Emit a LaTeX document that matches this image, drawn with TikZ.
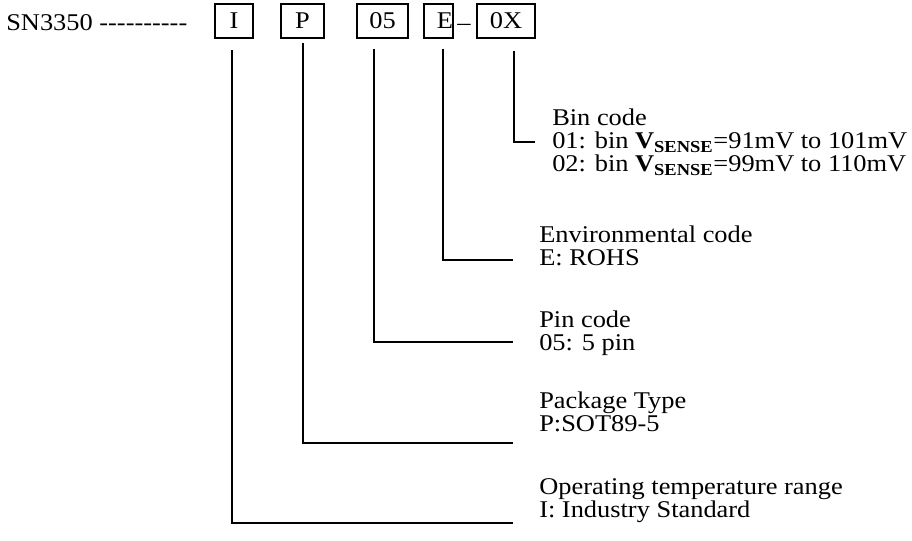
\documentclass[tikz,border=0pt]{standalone}
\usepackage{fontspec}
\setmainfont{Liberation Serif}[FakeStretch=1.1]
\usepackage{tikz}
\tikzset{
  codebox/.style={draw, line width=1.1pt, inner sep=0pt, minimum height=25.5pt},
  lbl/.style={anchor=base west, inner sep=0pt},
  lead/.style={line width=1.1pt},
}

\begin{document}
\begin{tikzpicture}[x=0.75pt, y=-0.75pt, font=\fontsize{18pt}{20pt}\selectfont]
		%%%%% START %%%%%
		\useasboundingbox (0,0) rectangle (912,541);
		
		\node[lbl] (part) at (6,31) {SN3350 -{}-{}-{}-{}-{}-{}-{}-{}-{}-};
		
		\node[codebox, minimum width=28.5pt] (I) at (234,21) {I};
		\node[codebox, minimum width=32.25pt] (P) at (302.5,21) {P};
		\node[codebox, minimum width=38.25pt] (pin) at (382.5,21) {05};
		\node[codebox, text width=21.75pt, align=right] (E) at (438.5,21) {E};
		\node[lbl, anchor=base] (dash) at (464,31) {\textendash};
		\node[codebox, minimum width=43.5pt] (bin) at (506,21) {0X};
		
		% bin code
		\coordinate (bintop) at (514,51);
		\coordinate (binend) at (535,142);
		\draw[lead] (bintop) |- (binend);
		\node[lbl] (binhead) at (552,126) {Bin code};
		\node[lbl] (bincodeA) at (552,149) {01: bin \textbf{V\textsubscript{SENSE}}=91mV to 101mV};
		\node[lbl] (bincodeB) at (552,172) {02: bin \textbf{V\textsubscript{SENSE}}=99mV to 110mV};
		
		% environmental code
		\coordinate (Etop) at (443,49);
		\coordinate (Eend) at (513,260);
		\draw[lead] (Etop) |- (Eend);
		\node[lbl] (Ehead) at (539,243) {Environmental code};
		\node[lbl] (Ecode) at (539,266) {E: ROHS};
		
		% pin code
		\coordinate (pintop) at (374,49);
		\coordinate (pinend) at (513,342);
		\draw[lead] (pintop) |- (pinend);
		\node[lbl] (pinhead) at (539,327) {Pin code};
		\node[lbl] (pincode) at (539,350) {05: 5 pin};
		
		% package type
		\coordinate (Ptop) at (303,43);
		\coordinate (Pend) at (513,443);
		\draw[lead] (Ptop) |- (Pend);
		\node[lbl] (Phead) at (539,408) {Package Type};
		\node[lbl] (Pcode) at (539,431) {P:SOT89-5};
		
		% operating temperature range
		\coordinate (Itop) at (232,50);
		\coordinate (Iend) at (513,523);
		\draw[lead] (Itop) |- (Iend);
		\node[lbl] (Ihead) at (539,494) {Operating temperature range};
		\node[lbl] (Icode) at (539,517) {I: Industry Standard};
		
		%%%%% END %%%%%
	\end{tikzpicture}
\end{document}
